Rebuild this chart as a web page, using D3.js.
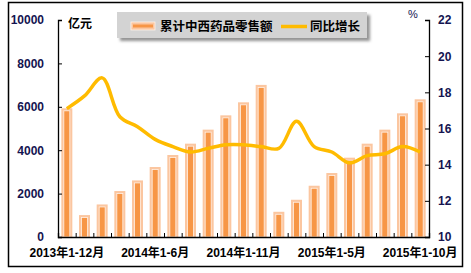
<!DOCTYPE html>
<html>
<head>
<meta charset="utf-8">
<script src="https://cdn.jsdelivr.net/npm/d3@7"></script>
<style>
  body { margin: 0; background: #fff; }
  text { font-family: "Liberation Sans", Arial, "Noto Sans CJK SC", sans-serif; }
</style>
</head>
<body>
<div id="chart"></div>
<script>
// categories (cumulative periods)
const periods = ["2013年1-12月",
  "2014年1-2月", "2014年1-3月", "2014年1-4月", "2014年1-5月", "2014年1-6月", "2014年1-7月",
  "2014年1-8月", "2014年1-9月", "2014年1-10月", "2014年1-11月", "2014年1-12月",
  "2015年1-2月", "2015年1-3月", "2015年1-4月", "2015年1-5月", "2015年1-6月",
  "2015年1-7月", "2015年1-8月", "2015年1-9月", "2015年1-10月"];
// 累计中西药品零售额 (亿元)
const sales = [5815, 895, 1385, 2003, 2492, 3110, 3664, 4186, 4832, 5491, 6091, 6894,
  1047, 1601, 2247, 2833, 3540, 4186, 4832, 5584, 6230];
// 同比增长 (%)
const growth = [17.1, 17.8, 18.8, 16.65, 16.1, 15.4, 15.0, 14.7, 14.9, 15.1, 15.1, 15.0,
  14.9, 16.4, 15.0, 14.7, 14.1, 14.5, 14.6, 15.0, 14.7];
const shownLabels = ["2013年1-12月", "2014年1-6月", "2014年1-11月", "2015年1-5月", "2015年1-10月"];
const leftTicks = [0, 2000, 4000, 6000, 8000, 10000];
const rightTicks = [10, 12, 14, 16, 18, 20, 22];

const W = 471, H = 273;
const plot = {left: 58, right: 429, top: 20, bottom: 237};

const svg = d3.select("#chart").append("svg")
  .attr("width", W)
  .attr("height", H);

const defs = svg.append("defs");
defs.append("filter")
  .attr("id", "shadow")
  .attr("x", "-10%").attr("y", "-30%")
  .attr("width", "130%").attr("height", "180%")
  .append("feDropShadow")
  .attr("dx", 3).attr("dy", 3)
  .attr("stdDeviation", 1.5)
  .attr("flood-color", "#777")
  .attr("flood-opacity", 0.8);

// outer frame
svg.append("rect")
  .attr("x", 8.5).attr("y", 2.5)
  .attr("width", 454).attr("height", 264)
  .attr("fill", "none")
  .attr("stroke", "#000")
  .attr("stroke-width", 1.5);

const x = d3.scaleBand()
  .domain(periods)
  .range([plot.left, plot.right])
  .padding(0);

const yL = d3.scaleLinear().domain([0, 10000]).range([plot.bottom, plot.top]);
const yR = d3.scaleLinear().domain([10, 22]).range([plot.bottom, plot.top]);

// bars
const bars = svg.append("g");
bars.selectAll("rect.outer")
  .data(sales)
  .enter()
  .append("rect")
  .attr("class", "outer")
  .attr("x", (d, i) => x(periods[i]) + x.bandwidth() / 2 - 5.5)
  .attr("y", d => yL(d) - 2.5)
  .attr("width", 11)
  .attr("height", d => plot.bottom - yL(d) + 2.5)
  .attr("fill", "#fbc6a0");

bars.selectAll("rect.inner")
  .data(sales)
  .enter()
  .append("rect")
  .attr("class", "inner")
  .attr("x", (d, i) => x(periods[i]) + x.bandwidth() / 2 - 3)
  .attr("y", d => yL(d))
  .attr("width", 6)
  .attr("height", d => plot.bottom - yL(d))
  .attr("fill", "#f79646")
  .attr("stroke", "#fff2e8")
  .attr("stroke-width", 0.8);

// axes
const tickColor = "#141450";

const leftAxis = svg.append("g")
  .attr("transform", `translate(${plot.left},0)`)
  .call(d3.axisLeft(yL).tickValues(leftTicks).tickSize(-4).tickPadding(14).tickFormat(d3.format("d")));

const rightAxis = svg.append("g")
  .attr("transform", `translate(${plot.right},0)`)
  .call(d3.axisRight(yR).tickValues(rightTicks).tickSize(-4).tickPadding(9));

const idx = d3.scaleLinear().domain([0, periods.length]).range([plot.left, plot.right]);
const bottomTicks = svg.append("g")
  .attr("transform", `translate(0,${plot.bottom})`)
  .call(d3.axisBottom(idx).tickValues(d3.range(periods.length + 1)).tickSize(-4).tickFormat(""));

const bottomAxis = svg.append("g")
  .attr("transform", `translate(0,${plot.bottom})`)
  .call(d3.axisBottom(x).tickValues(shownLabels).tickSize(0).tickPadding(11));

[leftAxis, rightAxis, bottomTicks, bottomAxis].forEach(g => {
  g.select(".domain").attr("stroke", "#000").attr("stroke-width", 1.3);
  g.selectAll(".tick line").attr("stroke", "#000");
  g.selectAll("text")
    .attr("fill", tickColor)
    .style("font-size", "12px")
    .style("font-weight", "bold");
});
bottomAxis.select(".domain").remove();
bottomAxis.selectAll("text").attr("fill", "#000");

// growth line
const line = d3.line()
  .x((d, i) => x(periods[i]) + x.bandwidth() / 2)
  .y(d => yR(d))
  .curve(d3.curveCatmullRom.alpha(0.5));

svg.append("path")
  .datum(growth)
  .attr("d", line)
  .attr("fill", "none")
  .attr("stroke", "#ffbb00")
  .attr("stroke-width", 3.5)
  .attr("stroke-linejoin", "round");

// unit labels
svg.append("text")
  .attr("x", 68).attr("y", 27.5)
  .text("亿元")
  .style("font-size", "12px")
  .style("font-weight", "bold");

svg.append("text")
  .attr("x", 413).attr("y", 18)
  .attr("text-anchor", "middle")
  .text("%")
  .attr("fill", tickColor)
  .style("font-size", "11px");

// legend
const legend = svg.append("g");
legend.append("rect")
  .attr("x", 117).attr("y", 12)
  .attr("width", 250).attr("height", 26)
  .attr("fill", "#d3d3d3")
  .attr("filter", "url(#shadow)");

legend.append("rect")
  .attr("x", 131).attr("y", 22)
  .attr("width", 24).attr("height", 8)
  .attr("fill", "#fbc6a0")
  .attr("stroke", "#fff2e8")
  .attr("stroke-width", 0.8);
legend.append("rect")
  .attr("x", 133).attr("y", 24.5)
  .attr("width", 20).attr("height", 3)
  .attr("fill", "#f79646");

legend.append("text")
  .attr("x", 160).attr("y", 31)
  .text("累计中西药品零售额")
  .style("font-size", "12.5px")
  .style("font-weight", "bold");

legend.append("line")
  .attr("x1", 281).attr("x2", 307)
  .attr("y1", 26.5).attr("y2", 26.5)
  .attr("stroke", "#ffbb00")
  .attr("stroke-width", 3.5);

legend.append("text")
  .attr("x", 310).attr("y", 31)
  .text("同比增长")
  .style("font-size", "12.5px")
  .style("font-weight", "bold");
</script>
</body>
</html>
